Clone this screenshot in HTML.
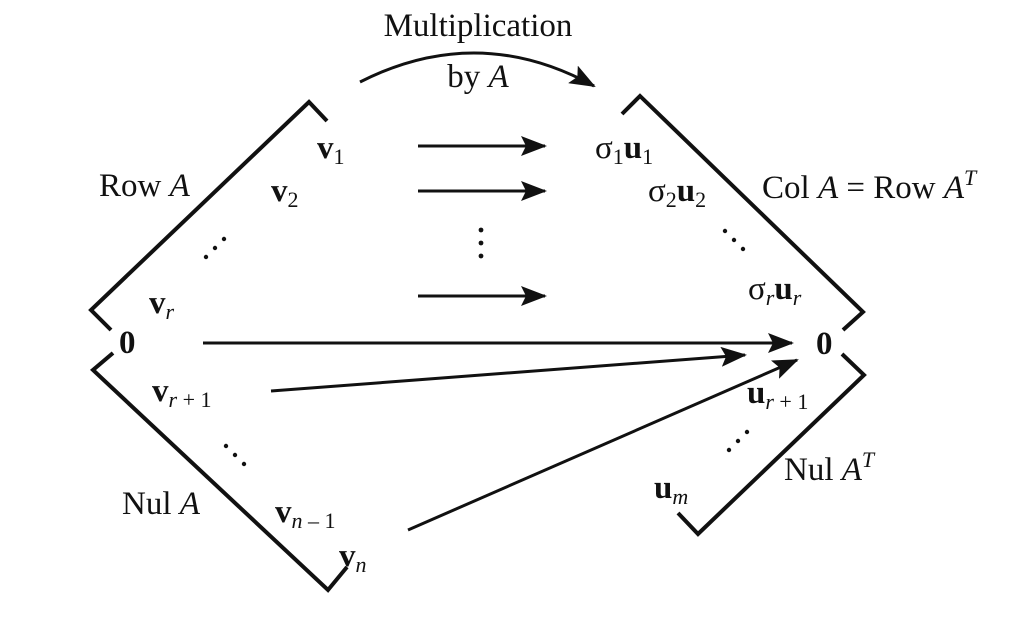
<!DOCTYPE html>
<html><head><meta charset="utf-8"><style>
html,body{margin:0;padding:0;background:#fff;}
svg{display:block}
text{font-family:"Liberation Serif",serif;font-size:33px;fill:#111}
.b{font-weight:bold}
.i{font-style:italic}
.s{font-size:22px}
</style></head><body>
<svg width="1031" height="639" viewBox="0 0 1031 639" xmlns="http://www.w3.org/2000/svg">
<defs>
<marker id="ah2" markerWidth="26" markerHeight="20" refX="24" refY="10" orient="auto" markerUnits="userSpaceOnUse">
<path d="M0,0 L26,10 L0,20 L5,10 z" fill="#111"/>
</marker>
</defs>
<g stroke="#111" stroke-width="4" fill="none" stroke-linejoin="miter">
<polyline points="327,121 309,102 91,310 111,330"/>
<polyline points="113,353 93,370 328,590 347,567"/>
<polyline points="622,114 640,96 863,312 843,330"/>
<polyline points="842,354 864,375 698,534 678,513"/>
</g>
<g stroke="#111" stroke-width="3" fill="none">
<path d="M360,82 Q478,22 594,86" marker-end="url(#ah2)"/>
<line x1="418" y1="146" x2="545" y2="146" marker-end="url(#ah2)"/>
<line x1="418" y1="191" x2="545" y2="191" marker-end="url(#ah2)"/>
<line x1="418" y1="296" x2="545" y2="296" marker-end="url(#ah2)"/>
<line x1="203" y1="343" x2="792" y2="343" marker-end="url(#ah2)"/>
<line x1="271" y1="391" x2="745" y2="355" marker-end="url(#ah2)"/>
<line x1="408" y1="530" x2="797" y2="360" marker-end="url(#ah2)"/>
</g>
<g fill="#111">
<circle cx="481" cy="230" r="2.4"/><circle cx="481" cy="243" r="2.4"/><circle cx="481" cy="256" r="2.4"/>
<circle cx="206" cy="257" r="2.2"/><circle cx="215" cy="248" r="2.2"/><circle cx="224" cy="239" r="2.2"/>
<circle cx="226" cy="446" r="2.2"/><circle cx="235" cy="455" r="2.2"/><circle cx="244" cy="464" r="2.2"/>
<circle cx="725" cy="231" r="2.2"/><circle cx="734" cy="240" r="2.2"/><circle cx="743" cy="249" r="2.2"/>
<circle cx="729" cy="450" r="2.2"/><circle cx="738" cy="441" r="2.2"/><circle cx="747" cy="432" r="2.2"/>
</g>
<text x="478" y="36" text-anchor="middle">Multiplication</text>
<text x="478" y="87" text-anchor="middle">by <tspan class="i">A</tspan></text>
<text x="99" y="196">Row <tspan class="i">A</tspan></text>
<text x="122" y="514">Nul <tspan class="i">A</tspan></text>
<text x="762" y="198">Col <tspan class="i">A</tspan> = Row <tspan class="i">A</tspan><tspan class="i s" dy="-13">T</tspan></text>
<text x="784" y="480">Nul <tspan class="i">A</tspan><tspan class="i s" dy="-13">T</tspan></text>
<text x="317" y="158" class="b">v<tspan class="s" font-weight="normal" dy="6">1</tspan></text>
<text x="271" y="201" class="b">v<tspan class="s" font-weight="normal" dy="6">2</tspan></text>
<text x="149" y="313" class="b">v<tspan class="s i" font-weight="normal" dy="6">r</tspan></text>
<text x="119" y="353" class="b">0</text>
<text x="152" y="401" class="b">v<tspan class="s" font-weight="normal" dy="6"><tspan font-style="italic">r</tspan> + 1</tspan></text>
<text x="275" y="522" class="b">v<tspan class="s" font-weight="normal" dy="6"><tspan font-style="italic">n</tspan> – 1</tspan></text>
<text x="339" y="566" class="b">v<tspan class="s i" font-weight="normal" dy="6">n</tspan></text>
<text x="595" y="158">σ<tspan class="s" dy="6">1</tspan><tspan class="b" dy="-6">u</tspan><tspan class="s" dy="6">1</tspan></text>
<text x="648" y="201">σ<tspan class="s" dy="6">2</tspan><tspan class="b" dy="-6">u</tspan><tspan class="s" dy="6">2</tspan></text>
<text x="748" y="299">σ<tspan class="s i" dy="6">r</tspan><tspan class="b" dy="-6">u</tspan><tspan class="s i" dy="6">r</tspan></text>
<text x="816" y="354" class="b">0</text>
<text x="747" y="403" class="b">u<tspan class="s" font-weight="normal" dy="6"><tspan font-style="italic">r</tspan> + 1</tspan></text>
<text x="654" y="498" class="b">u<tspan class="s i" font-weight="normal" dy="6">m</tspan></text>
</svg>
</body></html>
